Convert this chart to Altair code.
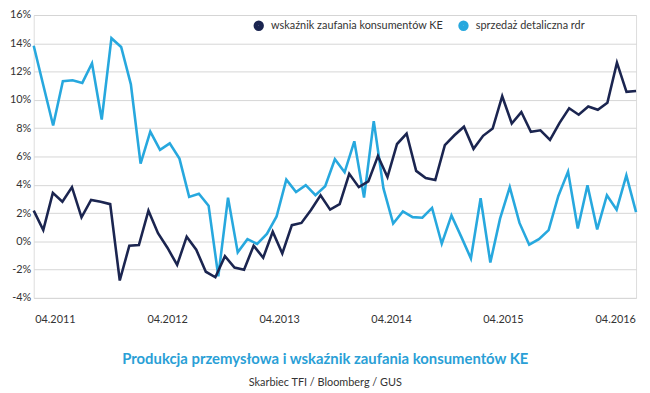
import altair as alt
import pandas as pd

# Series names
dark_name = "wskaźnik zaufania konsumentów KE"
light_name = "sprzedaż detaliczna rdr"

# Consumer confidence (EC) – 64 monthly points
dark_values = [2.17, 0.8, 3.43, 2.8, 3.83, 1.7, 2.93, 2.8, 2.63, -2.77,
               -0.31, -0.26, 2.17, 0.57, -0.47, -1.67, 0.33, -0.59, -2.15, -2.54,
               -1.05, -1.85, -2.01, -0.31, -1.16, 0.68, -0.86, 1.14, 1.3, 2.22,
               3.26, 2.24, 2.63, 4.77, 3.83, 4.24, 6.03, 4.54, 6.88, 7.62,
               4.98, 4.47, 4.33, 6.8, 7.5, 8.1, 6.54, 7.46, 7.97, 10.26,
               8.33, 9.14, 7.74, 7.85, 7.17, 8.38, 9.41, 8.95, 9.53, 9.3,
               9.8, 12.63, 10.57, 10.63]

# Retail sales y/y – 63 monthly points
light_values = [13.83, 11.0, 8.19, 11.32, 11.39, 11.2, 12.59, 8.61, 14.36, 13.74,
                11.1, 5.5, 7.76, 6.47, 6.93, 5.85, 3.14, 3.37, 2.52, -2.47,
                3.09, -0.78, 0.15, -0.19, 0.52, 1.76, 4.36, 3.48, 3.97, 3.26,
                3.9, 5.8, 4.88, 7.07, 3.09, 8.5, 3.74, 1.26, 2.12, 1.71,
                1.67, 2.36, -0.17, 1.83, 0.33, -1.21, 3.05, -1.5, 1.6, 3.83,
                1.3, -0.24, 0.15, 0.79, 3.21, 4.93, 0.91, 3.97, 0.84, 3.26,
                2.24, 4.66, 2.06]

# X tick labels (April of each year)
tick_years = [2011, 2012, 2013, 2014, 2015, 2016]
y_ticks = [-4, -2, 0, 2, 4, 6, 8, 10, 12, 14, 16]

dark_df = pd.DataFrame({"i": range(len(dark_values)), "v": dark_values, "s": dark_name})
light_df = pd.DataFrame({"i": range(len(light_values)), "v": light_values, "s": light_name})
tick_df = pd.DataFrame({"d": [f"{y}-04-01" for y in tick_years]})

DARK = "#1b2550"
LIGHT = "#27a8de"
FONT = "Lato"

color = alt.Color(
    "s:N",
    scale=alt.Scale(domain=[dark_name, light_name], range=[DARK, LIGHT]),
    legend=alt.Legend(
        title=None, orient="none", direction="horizontal",
        legendX=222, legendY=5, symbolType="circle", symbolSize=30,
        symbolStrokeWidth=5, labelFont=FONT, labelFontSize=11, labelColor="#333",
        labelOffset=7, columnPadding=6, labelLimit=400,
    ),
)

y_axis = alt.Axis(
    values=y_ticks, labelExpr="datum.value + '%'", title=None, grid=True,
    gridColor="#d6d6d6", gridWidth=1, domain=False, ticks=False,
    labelPadding=3, labelFont=FONT, labelFontSize=11, labelColor="#333",
)
y_enc = alt.Y("v:Q", scale=alt.Scale(domain=[-4, 16], nice=False), axis=y_axis)

dark_line = alt.Chart(dark_df).mark_line(strokeWidth=2.6, strokeJoin="miter").encode(
    x=alt.X("i:Q", axis=None, scale=alt.Scale(domain=[0, len(dark_values) - 1], nice=False)),
    y=y_enc,
    color=color,
)

light_line = alt.Chart(light_df).mark_line(strokeWidth=2.6, strokeJoin="miter").encode(
    x=alt.X("i:Q", axis=None, scale=alt.Scale(domain=[0, len(light_values) - 1], nice=False)),
    y=y_enc,
    color=color,
)

axis_layer = alt.Chart(tick_df).mark_point(opacity=0).encode(
    x=alt.X(
        "d:T",
        scale=alt.Scale(type="utc", domain=[alt.DateTime(year=2011, month=1, date=22, utc=True),
                                            alt.DateTime(year=2016, month=6, date=8, utc=True)]),
        axis=alt.Axis(
            values=[alt.DateTime(year=y, month=4, date=1, utc=True) for y in tick_years],
            labelExpr="utcFormat(datum.value, '%m.%Y')", title=None, grid=False, domain=False,
            ticks=False, labelPadding=16, labelFont=FONT, labelFontSize=11,
            labelColor="#333",
        ),
    ),
    y=alt.value(0),
)

chart = alt.layer(light_line, dark_line, axis_layer).resolve_scale(
    x="independent", y="shared"
).properties(
    width=609,
    height=286,
    autosize=alt.AutoSizeParams(type="none"),
    padding={"left": 26, "top": 5, "right": 6, "bottom": 90},
    title=alt.TitleParams(
        text="Produkcja przemysłowa i wskaźnik zaufania konsumentów KE",
        subtitle="Skarbiec TFI / Bloomberg / GUS",
        orient="bottom", anchor="middle", frame="bounds",
        font=FONT, fontSize=15, fontWeight="bold", color="#2a9fd6",
        subtitleFont=FONT, subtitleFontSize=11, subtitleColor="#333",
        subtitlePadding=10, offset=28,
    ),
).configure_view(stroke=None).configure(background="white")

chart.save("out.html", embed_options={"renderer": "svg", "actions": False})
